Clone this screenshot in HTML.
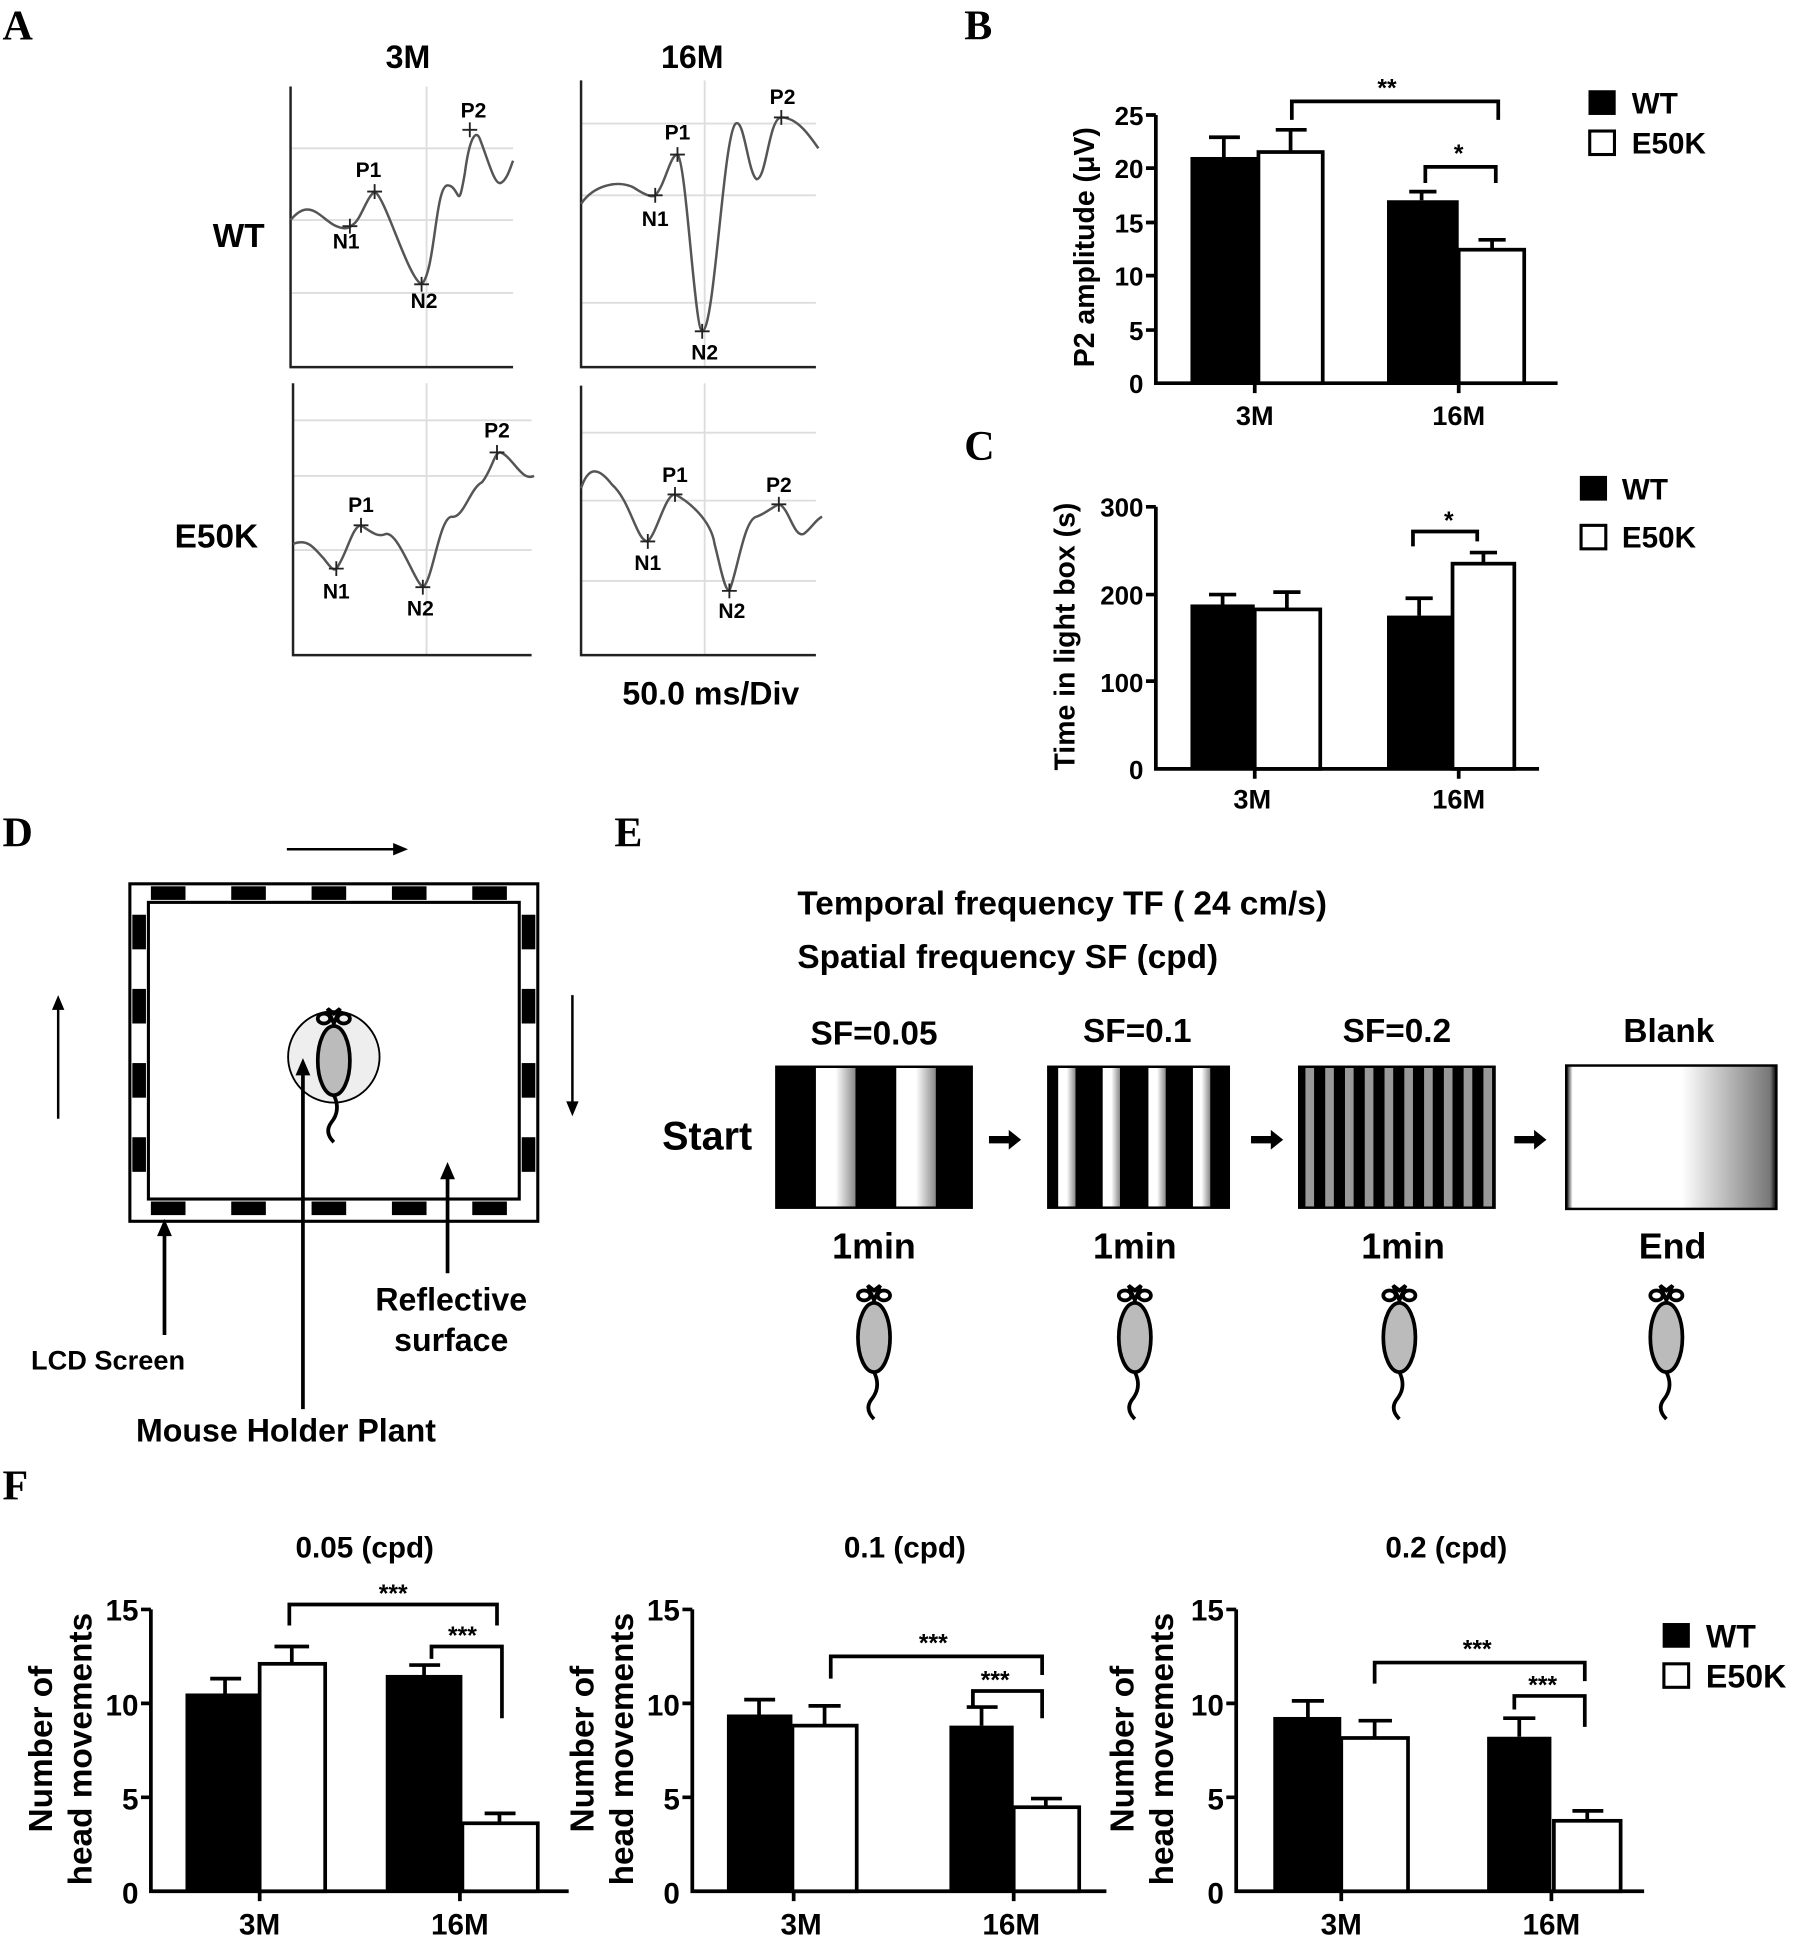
<!DOCTYPE html>
<html><head><meta charset="utf-8"><style>
html,body{margin:0;padding:0;background:#fff}
svg{display:block}
text{font-family:"Liberation Sans",Arial,sans-serif;font-weight:bold;fill:#000}
.L{font-family:"Liberation Serif",serif;font-size:34px}
</style></head><body>
<svg width="1795" height="1937" viewBox="0 0 1452 1567" xmlns="http://www.w3.org/2000/svg">
<defs>
<linearGradient id="stripe2" x1="0" x2="1"><stop offset="0" stop-color="#fff"/><stop offset="0.5" stop-color="#fff"/><stop offset="1" stop-color="#888"/></linearGradient>
<linearGradient id="blank" x1="0" x2="1"><stop offset="0" stop-color="#000"/><stop offset="0.03" stop-color="#fff"/><stop offset="0.55" stop-color="#fff"/><stop offset="0.97" stop-color="#777"/><stop offset="1" stop-color="#000"/></linearGradient>
<g id="mouse">
<path d="M0,-10 l-5,-12 l5,4 l5,-4 z" fill="none" stroke="#000" stroke-width="3"/>
<ellipse cx="-8" cy="-14" rx="5" ry="4" fill="none" stroke="#000" stroke-width="3"/>
<ellipse cx="8" cy="-14" rx="5" ry="4" fill="none" stroke="#000" stroke-width="3"/>
<ellipse cx="0" cy="20" rx="13" ry="28" fill="#bbb" stroke="#000" stroke-width="3"/>
<path d="M0,48 q6,12 -2,22 q-6,8 2,16" fill="none" stroke="#000" stroke-width="3"/>
</g>
</defs>

<!-- Panel A -->
<text class="L" x="2" y="32">A</text>
<text x="330" y="55" font-size="26" text-anchor="middle">3M</text>
<text x="560" y="55" font-size="26" text-anchor="middle">16M</text>
<text x="193" y="200" font-size="27" text-anchor="middle">WT</text>
<text x="175" y="443" font-size="27" text-anchor="middle">E50K</text>
<g stroke="#ddd" stroke-width="1.5" fill="none">
<path d="M235,120H415M235,178H415M235,237H415M345,70V297"/>
<path d="M470,100H660M470,158H660M470,245H660M570,65V297"/>
<path d="M237,340H430M237,385H430M237,445H430M345,310V530"/>
<path d="M470,350H660M470,405H660M470,470H660M570,310V530"/>
</g>
<g stroke="#222" stroke-width="2" fill="none">
<path d="M235,70V297H415M470,65V297H660M237,310V530H430M470,312V530H660"/>
</g>
<g stroke="#555" stroke-width="2" fill="none">
<path d="M235,178C250,160 258,175 270,182C278,186 282,185 285,182C292,178 296,160 303,155C312,160 330,225 341,230C352,220 352,150 362,150C372,150 370,175 376,140C380,110 385,105 388,112C395,130 400,150 405,148C410,146 413,135 415,130"/>
<path d="M470,165C480,150 500,145 513,152C522,158 528,160 530,158C538,150 542,125 548,125C555,130 562,268 568,268C578,268 585,110 595,100C602,95 605,140 612,145C620,145 622,95 632,95C645,95 655,110 662,120"/>
<path d="M237,440C250,435 255,445 262,452C268,460 270,462 272,460C280,450 285,425 292,425C300,430 305,435 312,432C322,430 335,470 342,475C350,470 355,420 365,418C375,420 380,395 390,390C398,380 400,365 405,366C415,370 422,390 432,385"/>
<path d="M470,395C475,380 482,375 495,392C510,405 515,438 524,438C532,430 538,400 546,400C556,405 575,420 578,440C582,455 586,478 590,478C597,460 602,420 612,418C620,415 625,410 630,408C638,410 642,435 650,432C656,428 660,420 665,418"/>
</g>
<g font-size="17" text-anchor="middle" fill="#222">
<text x="280" y="201">N1</text><text x="298" y="143">P1</text><text x="343" y="249">N2</text><text x="383" y="95">P2</text>
<text x="530" y="183">N1</text><text x="548" y="113">P1</text><text x="570" y="291">N2</text><text x="633" y="84">P2</text>
<text x="272" y="484">N1</text><text x="292" y="414">P1</text><text x="340" y="498">N2</text><text x="402" y="354">P2</text>
<text x="524" y="461">N1</text><text x="546" y="390">P1</text><text x="592" y="500">N2</text><text x="630" y="398">P2</text>
</g>
<g stroke="#222" stroke-width="1.5">
<path d="M277,183h12M283,177v12M297,155h12M303,149v12M335,230h12M341,224v12M374,105h12M380,99v12"/>
<path d="M524,158h12M530,152v12M542,125h12M548,119v12M562,268h12M568,262v12M626,95h12M632,89v12"/>
<path d="M266,460h12M272,454v12M286,425h12M292,419v12M336,475h12M342,469v12M396,366h12M402,360v12"/>
<path d="M518,438h12M524,432v12M540,400h12M546,394v12M584,478h12M590,472v12M624,408h12M630,402v12"/>
</g>
<text x="575" y="570" font-size="26" text-anchor="middle">50.0 ms/Div</text>

<!-- Panel B -->
<text class="L" x="780" y="32">B</text>
<g font-size="21" text-anchor="end">
<text x="925" y="101">25</text><text x="925" y="144">20</text><text x="925" y="188">15</text><text x="925" y="231">10</text><text x="925" y="275">5</text><text x="925" y="318">0</text>
</g>
<g stroke="#000" stroke-width="3" fill="none">
<path d="M935,93V310H1260M927,93h8M927,136h8M927,180h8M927,223h8M927,267h8M1015,310v8M1180,310v8"/>
</g>
<rect x="963" y="127" width="55" height="183" fill="#000"/>
<rect x="1018" y="123" width="52" height="187" fill="#fff" stroke="#000" stroke-width="3"/>
<rect x="1122" y="162" width="58" height="148" fill="#000"/>
<rect x="1180" y="202" width="53" height="108" fill="#fff" stroke="#000" stroke-width="3"/>
<g stroke="#000" stroke-width="3" fill="none">
<path d="M990,127V111M978,111h25M1044,123V105M1032,105h25M1150,162V155M1140,155h22M1207,202V194M1196,194h22"/>
<path d="M1045,97V82H1212V97M1153,148V135H1210V148"/>
</g>
<text x="1122" y="78" font-size="20" text-anchor="middle">**</text>
<text x="1180" y="131" font-size="20" text-anchor="middle">*</text>
<text x="1015" y="344" font-size="22" text-anchor="middle">3M</text>
<text x="1180" y="344" font-size="22" text-anchor="middle">16M</text>
<text transform="translate(885,200) rotate(-90)" font-size="23" text-anchor="middle">P2 amplitude (μV)</text>
<rect x="1285" y="73" width="22" height="20" fill="#000"/>
<rect x="1286" y="106" width="20" height="19" fill="#fff" stroke="#000" stroke-width="2.5"/>
<text x="1320" y="92" font-size="24">WT</text>
<text x="1320" y="124" font-size="24">E50K</text>

<!-- Panel C -->
<text class="L" x="780" y="372">C</text>
<g font-size="21" text-anchor="end">
<text x="925" y="418">300</text><text x="925" y="489">200</text><text x="925" y="560">100</text><text x="925" y="630">0</text>
</g>
<g stroke="#000" stroke-width="3" fill="none">
<path d="M935,410V622H1245M927,410h8M927,481h8M927,551h8M1015,622v8M1180,622v8"/>
</g>
<rect x="963" y="489" width="52" height="133" fill="#000"/>
<rect x="1015" y="493" width="53" height="129" fill="#fff" stroke="#000" stroke-width="3"/>
<rect x="1122" y="498" width="53" height="124" fill="#000"/>
<rect x="1175" y="456" width="50" height="166" fill="#fff" stroke="#000" stroke-width="3"/>
<g stroke="#000" stroke-width="3" fill="none">
<path d="M989,489V481M978,481h22M1041,493V479M1030,479h22M1148,498V484M1137,484h22M1200,456V447M1189,447h22"/>
<path d="M1143,442V430H1195V438"/>
</g>
<text x="1172" y="428" font-size="20" text-anchor="middle">*</text>
<text x="1013" y="654" font-size="22" text-anchor="middle">3M</text>
<text x="1180" y="654" font-size="22" text-anchor="middle">16M</text>
<text transform="translate(869,515) rotate(-90)" font-size="23" text-anchor="middle">Time in light box (s)</text>
<rect x="1278" y="385" width="22" height="20" fill="#000"/>
<rect x="1279" y="425" width="20" height="19" fill="#fff" stroke="#000" stroke-width="2.5"/>
<text x="1312" y="404" font-size="24">WT</text>
<text x="1312" y="443" font-size="24">E50K</text>

<!-- Panel D -->
<text class="L" x="2" y="685">D</text>
<path d="M232,687H320" stroke="#000" stroke-width="2"/><path d="M330,687l-12,-5v10z"/>
<path d="M47,905V815" stroke="#000" stroke-width="2"/><path d="M47,805l-5,12h10z"/>
<path d="M463,805V893" stroke="#000" stroke-width="2"/><path d="M463,903l-5,-12h10z"/>
<rect x="105" y="715" width="330" height="273" fill="#fff" stroke="#000" stroke-width="2.5"/>
<rect x="120" y="730" width="300" height="240" fill="#fff" stroke="#000" stroke-width="2.5"/>
<g fill="#000">
<rect x="122" y="717" width="28" height="11"/><rect x="187" y="717" width="28" height="11"/><rect x="252" y="717" width="28" height="11"/><rect x="317" y="717" width="28" height="11"/><rect x="382" y="717" width="28" height="11"/>
<rect x="122" y="972" width="28" height="11"/><rect x="187" y="972" width="28" height="11"/><rect x="252" y="972" width="28" height="11"/><rect x="317" y="972" width="28" height="11"/><rect x="382" y="972" width="28" height="11"/>
<rect x="107" y="740" width="11" height="28"/><rect x="107" y="800" width="11" height="28"/><rect x="107" y="860" width="11" height="28"/><rect x="107" y="920" width="11" height="28"/>
<rect x="422" y="740" width="11" height="28"/><rect x="422" y="800" width="11" height="28"/><rect x="422" y="860" width="11" height="28"/><rect x="422" y="920" width="11" height="28"/>
</g>
<circle cx="270" cy="855" r="37" fill="#eee" stroke="#000" stroke-width="1.5"/>
<use href="#mouse" transform="translate(270,838)"/>
<g stroke="#000" stroke-width="3"><path d="M133,1080V998M245,1140V868M362,1030V952"/></g>
<path d="M133,986l-6,14h12zM245,856l-6,14h12zM362,940l-6,14h12z"/>
<text x="25" y="1108" font-size="22">LCD Screen</text>
<text x="110" y="1166" font-size="26">Mouse Holder Plant</text>
<text x="365" y="1060" font-size="26" text-anchor="middle">Reflective</text>
<text x="365" y="1093" font-size="26" text-anchor="middle">surface</text>

<!-- Panel E -->
<text class="L" x="497" y="685">E</text>
<text x="645" y="740" font-size="27">Temporal frequency  TF ( 24 cm/s)</text>
<text x="645" y="783" font-size="27">Spatial frequency SF (cpd)</text>
<text x="707" y="845" font-size="27" text-anchor="middle">SF=0.05</text>
<text x="920" y="843" font-size="27" text-anchor="middle">SF=0.1</text>
<text x="1130" y="843" font-size="27" text-anchor="middle">SF=0.2</text>
<text x="1350" y="843" font-size="27" text-anchor="middle">Blank</text>
<text x="572" y="930" font-size="32" text-anchor="middle">Start</text>
<rect x="627" y="862" width="160" height="116" fill="#000"/>
<rect x="660" y="864" width="32" height="112" fill="url(#stripe2)"/>
<rect x="725" y="864" width="32" height="112" fill="url(#stripe2)"/>
<rect x="847" y="862" width="148" height="116" fill="#000"/>
<g fill="url(#stripe2)"><rect x="856" y="864" width="14" height="112"/><rect x="892" y="864" width="14" height="112"/><rect x="929" y="864" width="14" height="112"/><rect x="965" y="864" width="14" height="112"/></g>
<rect x="1050" y="862" width="160" height="116" fill="#000"/>
<g fill="#999"><rect x="1056" y="864" width="7" height="112"/><rect x="1072" y="864" width="7" height="112"/><rect x="1088" y="864" width="7" height="112"/><rect x="1104" y="864" width="7" height="112"/><rect x="1120" y="864" width="7" height="112"/><rect x="1136" y="864" width="7" height="112"/><rect x="1152" y="864" width="7" height="112"/><rect x="1168" y="864" width="7" height="112"/><rect x="1184" y="864" width="7" height="112"/><rect x="1200" y="864" width="7" height="112"/></g>
<rect x="1267" y="862" width="170" height="116" fill="url(#blank)" stroke="#000" stroke-width="2"/>
<g fill="#000"><path d="M800,919h16v-5l10,8l-10,8v-5h-16z"/><path d="M1012,919h16v-5l10,8l-10,8v-5h-16z"/><path d="M1225,919h16v-5l10,8l-10,8v-5h-16z"/></g>
<text x="707" y="1018" font-size="29" text-anchor="middle">1min</text>
<text x="918" y="1018" font-size="29" text-anchor="middle">1min</text>
<text x="1135" y="1018" font-size="29" text-anchor="middle">1min</text>
<text x="1353" y="1018" font-size="29" text-anchor="middle">End</text>
<use href="#mouse" transform="translate(707,1062)"/>
<use href="#mouse" transform="translate(918,1062)"/>
<use href="#mouse" transform="translate(1132,1062)"/>
<use href="#mouse" transform="translate(1348,1062)"/>

<!-- Panel F -->
<text class="L" x="2" y="1213">F</text>
<text x="295" y="1260" font-size="24" text-anchor="middle">0.05 (cpd)</text>
<text x="732" y="1260" font-size="24" text-anchor="middle">0.1 (cpd)</text>
<text x="1170" y="1260" font-size="24" text-anchor="middle">0.2 (cpd)</text>

<!-- F1 -->
<g font-size="24" text-anchor="end"><text x="112" y="1311">15</text><text x="112" y="1388">10</text><text x="112" y="1464">5</text><text x="112" y="1540">0</text></g>
<g stroke="#000" stroke-width="3" fill="none"><path d="M122,1302V1530H460M114,1302h8M114,1378h8M114,1454h8M210,1530v8M372,1530v8"/></g>
<rect x="150" y="1370" width="60" height="160" fill="#000"/>
<rect x="210" y="1346" width="53" height="184" fill="#fff" stroke="#000" stroke-width="3"/>
<rect x="312" y="1355" width="62" height="175" fill="#000"/>
<rect x="374" y="1475" width="61" height="55" fill="#fff" stroke="#000" stroke-width="3"/>
<g stroke="#000" stroke-width="3" fill="none"><path d="M182,1370V1358M170,1358h25M236,1346V1332M222,1332h28M343,1355V1347M331,1347h25M404,1475V1467M392,1467h25"/>
<path d="M234,1315V1298H402V1315M349,1342V1332H406V1390"/></g>
<text x="318" y="1296" font-size="20" text-anchor="middle">***</text>
<text x="374" y="1330" font-size="20" text-anchor="middle">***</text>
<text transform="translate(42,1415) rotate(-90)" font-size="27" text-anchor="middle">Number of</text>
<text transform="translate(74,1415) rotate(-90)" font-size="27" text-anchor="middle">head movements</text>
<text x="210" y="1565" font-size="24" text-anchor="middle">3M</text>
<text x="372" y="1565" font-size="24" text-anchor="middle">16M</text>

<!-- F2 -->
<g font-size="24" text-anchor="end"><text x="550" y="1311">15</text><text x="550" y="1388">10</text><text x="550" y="1464">5</text><text x="550" y="1540">0</text></g>
<g stroke="#000" stroke-width="3" fill="none"><path d="M560,1302V1530H895M552,1302h8M552,1378h8M552,1454h8M642,1530v8M820,1530v8"/></g>
<rect x="588" y="1387" width="53" height="143" fill="#000"/>
<rect x="641" y="1396" width="52" height="134" fill="#fff" stroke="#000" stroke-width="3"/>
<rect x="768" y="1396" width="52" height="134" fill="#000"/>
<rect x="820" y="1462" width="53" height="68" fill="#fff" stroke="#000" stroke-width="3"/>
<g stroke="#000" stroke-width="3" fill="none"><path d="M614,1387V1375M602,1375h25M667,1396V1380M654,1380h26M794,1396V1381M782,1381h25M846,1462V1455M834,1455h25"/>
<path d="M672,1358V1340H843V1355M787,1380V1368H843V1390"/></g>
<text x="755" y="1336" font-size="20" text-anchor="middle">***</text>
<text x="805" y="1366" font-size="20" text-anchor="middle">***</text>
<text transform="translate(480,1415) rotate(-90)" font-size="27" text-anchor="middle">Number of</text>
<text transform="translate(512,1415) rotate(-90)" font-size="27" text-anchor="middle">head movements</text>
<text x="648" y="1565" font-size="24" text-anchor="middle">3M</text>
<text x="818" y="1565" font-size="24" text-anchor="middle">16M</text>

<!-- F3 -->
<g font-size="24" text-anchor="end"><text x="990" y="1311">15</text><text x="990" y="1388">10</text><text x="990" y="1464">5</text><text x="990" y="1540">0</text></g>
<g stroke="#000" stroke-width="3" fill="none"><path d="M1000,1302V1530H1330M992,1302h8M992,1378h8M992,1454h8M1085,1530v8M1255,1530v8"/></g>
<rect x="1030" y="1389" width="55" height="141" fill="#000"/>
<rect x="1085" y="1406" width="54" height="124" fill="#fff" stroke="#000" stroke-width="3"/>
<rect x="1203" y="1405" width="52" height="125" fill="#000"/>
<rect x="1257" y="1473" width="54" height="57" fill="#fff" stroke="#000" stroke-width="3"/>
<g stroke="#000" stroke-width="3" fill="none"><path d="M1058,1389V1376M1045,1376h26M1112,1406V1392M1099,1392h27M1229,1405V1390M1216,1390h26M1284,1473V1465M1272,1465h25"/>
<path d="M1112,1362V1345H1282V1360M1225,1383V1372H1282V1397"/></g>
<text x="1195" y="1341" font-size="20" text-anchor="middle">***</text>
<text x="1248" y="1370" font-size="20" text-anchor="middle">***</text>
<text transform="translate(917,1415) rotate(-90)" font-size="27" text-anchor="middle">Number of</text>
<text transform="translate(949,1415) rotate(-90)" font-size="27" text-anchor="middle">head movements</text>
<text x="1085" y="1565" font-size="24" text-anchor="middle">3M</text>
<text x="1255" y="1565" font-size="24" text-anchor="middle">16M</text>
<rect x="1345" y="1313" width="22" height="20" fill="#000"/>
<rect x="1346" y="1346" width="20" height="19" fill="#fff" stroke="#000" stroke-width="2.5"/>
<text x="1380" y="1333" font-size="26">WT</text>
<text x="1380" y="1365" font-size="26">E50K</text>
</svg>
</body></html>
